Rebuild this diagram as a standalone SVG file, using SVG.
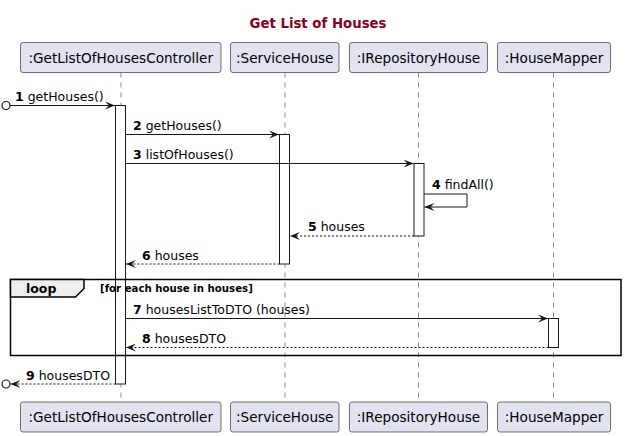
<svg xmlns="http://www.w3.org/2000/svg" width="625" height="436" viewBox="0 0 625 436">
<defs>
<style>
text{font-family:"DejaVu Sans","Liberation Sans",Arial,sans-serif;fill:#000}
.title{font-size:13.3px;font-weight:bold;fill:#880022}
.pbox{fill:#E2E2F0;stroke:#181818;stroke-width:0.6}
.ptxt{font-size:13.6px}
.life{stroke:#181818;stroke-width:0.5;stroke-dasharray:5,5;fill:none}
.act{fill:#fff;stroke:#181818;stroke-width:1}
.msg{stroke:#181818;stroke-width:1;fill:none}
.ret{stroke:#181818;stroke-width:1;fill:none;stroke-dasharray:2,2}
.lbl{font-size:12.5px}
.num{font-weight:bold}
.frame{fill:none;stroke:#000;stroke-width:1.5}
.tab{fill:#EEEEEE;stroke:#000;stroke-width:1.5}
.cond{font-size:10.2px;font-weight:bold}
.loop{font-size:12.5px;font-weight:bold}
</style>
<marker id="ah" viewBox="0 0 10 8" refX="10" refY="4" markerWidth="10" markerHeight="8" markerUnits="userSpaceOnUse" orient="auto">
<polygon points="0,0 10,4 0,8 4,4" fill="#181818"/>
</marker>
</defs>
<rect width="625" height="436" fill="#fff"/>
<text class="title" x="318" y="28" text-anchor="middle">Get List of Houses</text>

<g id="lifelines">
<line class="life" x1="121" y1="72.5" x2="121" y2="402"/>
<line class="life" x1="285" y1="72.5" x2="285" y2="402"/>
<line class="life" x1="418.5" y1="72.5" x2="418.5" y2="402"/>
<line class="life" x1="553.5" y1="72.5" x2="553.5" y2="402"/>
</g>

<g id="p-controller">
<rect class="pbox" x="20.5" y="42.5" width="200.5" height="30" rx="2.5"/>
<text class="ptxt" x="120.75" y="62.5" text-anchor="middle">:GetListOfHousesController</text>
<rect class="pbox" x="20.5" y="402" width="200.5" height="30" rx="2.5"/>
<text class="ptxt" x="120.75" y="422" text-anchor="middle">:GetListOfHousesController</text>
</g>
<g id="p-service">
<rect class="pbox" x="230.5" y="42.5" width="108.5" height="30" rx="2.5"/>
<text class="ptxt" x="284.75" y="62.5" text-anchor="middle">:ServiceHouse</text>
<rect class="pbox" x="230.5" y="402" width="108.5" height="30" rx="2.5"/>
<text class="ptxt" x="284.75" y="422" text-anchor="middle">:ServiceHouse</text>
</g>
<g id="p-repo">
<rect class="pbox" x="349.5" y="42.5" width="138" height="30" rx="2.5"/>
<text class="ptxt" x="418.5" y="62.5" text-anchor="middle">:IRepositoryHouse</text>
<rect class="pbox" x="349.5" y="402" width="138" height="30" rx="2.5"/>
<text class="ptxt" x="418.5" y="422" text-anchor="middle">:IRepositoryHouse</text>
</g>
<g id="p-mapper">
<rect class="pbox" x="497.5" y="42.5" width="113" height="30" rx="2.5"/>
<text class="ptxt" x="554" y="62.5" text-anchor="middle">:HouseMapper</text>
<rect class="pbox" x="497.5" y="402" width="113" height="30" rx="2.5"/>
<text class="ptxt" x="554" y="422" text-anchor="middle">:HouseMapper</text>
</g>

<g id="activations">
<rect class="act" x="115.5" y="105.5" width="10" height="278.5"/>
<rect class="act" x="279.5" y="134.5" width="10" height="129.5"/>
<rect class="act" x="414" y="163.5" width="10" height="72.5"/>
<rect class="act" x="548.5" y="318.5" width="10" height="29"/>
</g>

<g id="loop-frame">
<rect class="frame" x="10.5" y="279.5" width="610.5" height="76"/>
<path class="tab" d="M10.5,279.5 H84 V288.5 L75.5,297 H10.5 Z"/>
<text class="loop" x="26" y="293">loop</text>
<text class="cond" x="100" y="292">[for each house in houses]</text>
</g>

<g id="connectors">
<circle cx="6" cy="105.5" r="4" fill="#fff" stroke="#181818" stroke-width="1.2"/>
<line class="msg" x1="10" y1="105.5" x2="115" y2="105.5" marker-end="url(#ah)"/>
<line class="msg" x1="125.5" y1="134.5" x2="279" y2="134.5" marker-end="url(#ah)"/>
<line class="msg" x1="125.5" y1="163.5" x2="413.5" y2="163.5" marker-end="url(#ah)"/>
<polyline class="msg" points="424,194 467,194 467,207 424.5,207" marker-end="url(#ah)"/>
<line class="ret" x1="414" y1="236" x2="290" y2="236" marker-end="url(#ah)"/>
<line class="ret" x1="279.5" y1="264" x2="126" y2="264" marker-end="url(#ah)"/>
<line class="msg" x1="125.5" y1="318.5" x2="548" y2="318.5" marker-end="url(#ah)"/>
<line class="ret" x1="548.5" y1="347.5" x2="126" y2="347.5" marker-end="url(#ah)"/>
<line class="ret" x1="115.5" y1="384" x2="10.5" y2="384" marker-end="url(#ah)"/>
<circle cx="6" cy="384" r="4" fill="#fff" stroke="#181818" stroke-width="1.2"/>
</g>

<g id="labels">
<text class="lbl" x="15" y="101"><tspan class="num">1</tspan> getHouses()</text>
<text class="lbl" x="133" y="130"><tspan class="num">2</tspan> getHouses()</text>
<text class="lbl" x="133" y="159"><tspan class="num">3</tspan> listOfHouses()</text>
<text class="lbl" x="432" y="189"><tspan class="num">4</tspan> findAll()</text>
<text class="lbl" x="308" y="231"><tspan class="num">5</tspan> houses</text>
<text class="lbl" x="142" y="260"><tspan class="num">6</tspan> houses</text>
<text class="lbl" x="133" y="314"><tspan class="num">7</tspan> housesListToDTO (houses)</text>
<text class="lbl" x="142" y="343"><tspan class="num">8</tspan> housesDTO</text>
<text class="lbl" x="26" y="380"><tspan class="num">9</tspan> housesDTO</text>
</g>
</svg>
